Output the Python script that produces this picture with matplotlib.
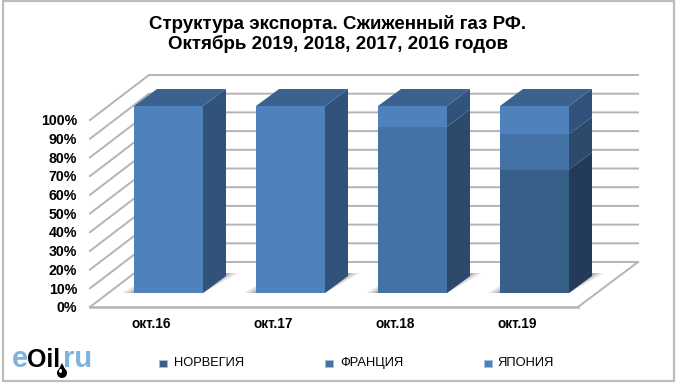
import numpy as np
import matplotlib
matplotlib.use("Agg")
import matplotlib.pyplot as plt
from matplotlib.patches import Polygon, Rectangle, Ellipse

plt.rcParams['font.family'] = ['Liberation Sans', 'DejaVu Sans']

# --- data ---
categories = ['окт.16', 'окт.17', 'окт.18', 'окт.19']
series_names = ['НОРВЕГИЯ', 'ФРАНЦИЯ', 'ЯПОНИЯ']
norway = [0, 0, 0, 66]
france = [0, 0, 89, 19]
japan = [100, 100, 11, 15]
y_ticks = [0, 10, 20, 30, 40, 50, 60, 70, 80, 90, 100]

# --- style ---
W, H = 680, 385
front_cols = ['#376089', '#4472A6', '#4F81BD']
side_cols = ['#233B58', '#2C4A6B', '#31527A']
top_col = '#3B618E'
grid_col = '#B4B4B4'

fig = plt.figure(figsize=(W / 100, H / 100), dpi=100)
fig.patch.set_facecolor('white')

# axes = plane of the bar fronts, 1 category = 122 px, 100% = 187 px
PX_X = 122.0
PX_Y = 1.87
ax = fig.add_axes([107.5 / W, 1 - 293 / H, 488 / W, 187 / H])
ax.set_xlim(-0.5, 3.5)
ax.set_ylim(0, 100)
ax.axis('off')


def off(x, y, dx=0, dy=0):
    # shift in pixels from a data position
    return (x + dx / PX_X, y + dy / PX_Y)


def poly(pts, **kw):
    kw.setdefault('clip_on', False)
    p = Polygon(pts, closed=True, **kw)
    ax.add_patch(p)
    return p


def line(pts, lw=1.4, z=1):
    xs, ys = zip(*pts)
    ax.plot(xs, ys, color=grid_col, lw=lw, clip_on=False, zorder=z, solid_joinstyle='miter')


# figure frame
fig.add_artist(Rectangle((3 / W, 1 - 381 / H), 671 / W, 380 / H, fill=False,
                         ec='#BDBDBD', lw=1.6, transform=fig.transFigure))

# walls and gridlines, all relative to the bar plane
x0, x1 = -0.5, 3.5
for t in y_ticks:
    a = off(x0, t, -17.5, -14)      # front left
    b = off(x0, t, 41.5, 31)        # back left
    c = off(x1, t, 42.5, 31)        # back right
    line([a, b, c])
    ax.text(a[0] - 13 / PX_X, a[1] - 1.2 / PX_Y, f'{t}%', ha='right', va='center',
            fontsize=10.2, fontweight='bold', color='black')

# floor
fl = off(x0, 0, -17.5, -14)
fr = off(x1, 0, -17.5, -14)
br = off(x1, 0, 42.5, 31)
line([fr, br])
line([fl, fr], lw=1.8)

# bars
half = 34.5 / PX_X
DX, DY = 23, 17
for i, cat in enumerate(categories):
    l, r = i - half, i + half
    # floor shadow, lighter layers first
    for k, (grow, col) in enumerate([(12, '#E8E8E8'), (8, '#D0D0D0'), (4, '#ABABAB')]):
        poly([off(l, 0, -grow, 0), off(l, 0, 0, grow * 0.6), off(l, 0)],
             fc=col, ec='none', zorder=2 + k * 0.01)
        poly([off(r, 0), off(r, 0, DX + grow, DY + 3), off(r, 0, DX, DY + 3)],
             fc=col, ec='none', zorder=2 + k * 0.01)
    bottom = 0
    for vals, fc, sc in zip([norway, france, japan], front_cols, side_cols):
        v = vals[i]
        if v == 0:
            continue
        ax.bar(i, v, width=2 * half, bottom=bottom, color=fc, edgecolor='none', zorder=3)
        poly([off(r, bottom), off(r, bottom + v), off(r, bottom + v, DX, DY),
              off(r, bottom, DX, DY)], fc=sc, ec='none', zorder=3)
        bottom += v
    poly([off(l, 100), off(r, 100), off(r, 100, DX, DY), off(l, 100, DX, DY)],
         fc=top_col, ec='none', zorder=3)
    ax.text(i - 17.5 / PX_X, off(0, 0, 0, -31)[1], cat, ha='center', va='center',
            fontsize=9.8, fontweight='bold', color='black', clip_on=False)

# title
fig.text(338 / W, 1 - 34 / H, 'Структура экспорта. Сжиженный газ РФ.\nОктябрь 2019, 2018, 2017, 2016 годов',
         ha='center', va='center', fontsize=13.5, fontweight='bold', color='black', linespacing=1.1)

# legend
leg_x = [159, 325, 484]
leg_tx = [174, 340, 497]
for name, col, x, tx in zip(series_names, front_cols, leg_x, leg_tx):
    fig.add_artist(Rectangle((x / W, 1 - 367 / H), 7.5 / W, 7.5 / H, fc=col, ec='#A9BDD6', lw=0.7,
                             transform=fig.transFigure))
    fig.text(tx / W, 1 - 363 / H, name, ha='left', va='center', fontsize=9.3, color='black')

# logo
for txt, x, col, fs in [('e', 12, '#7FB2DC', 21), ('Oil', 27, 'black', 18), ('ru', 63, '#7FB2DC', 21)]:
    fig.text(x / W, 1 - 367 / H, txt, fontsize=fs, color=col, ha='left', va='baseline',
             fontweight='bold')
fig.add_artist(Polygon([(62 / W, 1 - 363 / H), (57.5 / W, 1 - 372 / H), (66.5 / W, 1 - 372 / H)],
                       closed=True, fc='black', ec='none', transform=fig.transFigure))
fig.add_artist(Ellipse((62 / W, 1 - 373 / H), 10 / W, 10 / H, fc='black', ec='none',
                       transform=fig.transFigure))
fig.add_artist(Ellipse((60.5 / W, 1 - 371 / H), 3 / W, 4 / H, fc='white', ec='none',
                       transform=fig.transFigure))

fig.savefig('out.png', dpi=100)
